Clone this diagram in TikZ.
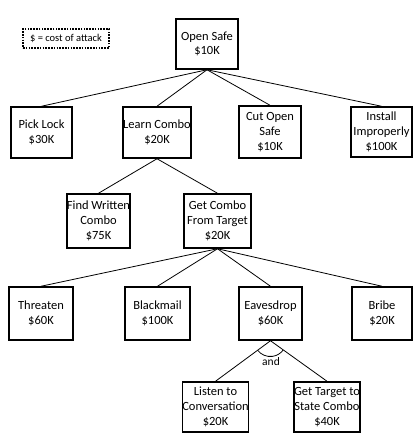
\documentclass[tikz,border=0pt]{standalone}
\usepackage{fontspec}
\setmainfont{Carlito}
\usetikzlibrary{calc}
\begin{document}
\begin{tikzpicture}[x=1pt,y=1pt,
  box/.style={draw=black,line width=1.5pt,align=center,inner sep=0pt,font=\fontsize{12.5}{14.8}\selectfont},
  link/.style={draw=black,line width=0.8pt}]
\useasboundingbox (0,0) rectangle (412,-433);
\node[draw=black,line width=1.6pt,dash pattern=on 1.6pt off 1.2pt,minimum width=86pt,minimum height=19pt,inner sep=0pt,font=\fontsize{10.5}{12}\selectfont] (legend) at (66,-38.5) {\$ = cost of attack};
\node[box,minimum width=62pt,minimum height=50pt] (open) at (207,-44) {Open Safe\\\$10K};
\node[box,minimum width=61pt,minimum height=51pt] (pick) at (41.5,-132.5) {Pick Lock\\\$30K};
\node[box,minimum width=66pt,minimum height=51pt] (learn) at (157,-132.5) {Learn Combo\\\$20K};
\node[box,minimum width=62pt,minimum height=52pt] (cut) at (270,-132) {Cut Open\\Safe\\\$10K};
\node[box,minimum width=61pt,minimum height=50pt] (install) at (381.5,-132) {Install\\Improperly\\\$100K};
\node[box,minimum width=63pt,minimum height=54pt] (find) at (98.5,-221) {Find Written\\Combo\\\$75K};
\node[box,minimum width=67pt,minimum height=54pt] (target) at (217.5,-221) {Get Combo\\From Target\\\$20K};
\node[box,minimum width=64pt,minimum height=53pt] (threaten) at (41,-313.5) {Threaten\\\$60K};
\node[box,minimum width=65pt,minimum height=53pt] (blackmail) at (157.5,-313.5) {Blackmail\\\$100K};
\node[box,minimum width=63pt,minimum height=53pt] (eaves) at (270.5,-313.5) {Eavesdrop\\\$60K};
\node[box,minimum width=60pt,minimum height=53pt] (bribe) at (382,-313.5) {Bribe\\\$20K};
\node[box,minimum width=63pt,minimum height=50pt] (listen) at (215.5,-407) {Listen to\\Conversation\\\$20K};
\node[box,minimum width=62pt,minimum height=50pt] (state) at (327,-407) {Get Target to\\State Combo\\\$40K};
\foreach \c in {pick,learn,cut,install} \draw[link] (open.south) -- (\c.north);
\foreach \c in {find,target} \draw[link] (learn.south) -- (\c.north);
\foreach \c in {threaten,blackmail,eaves,bribe} \draw[link] (target.south) -- (\c.north);
\foreach \c in {listen,state} \draw[link] (eaves.south) -- (\c.north);
\draw[link] ($(eaves.south)!16pt!(listen.north)$) arc[start angle=217.4,end angle=323.4,radius=16pt];
\node[font=\fontsize{11.5}{13}\selectfont,inner sep=0pt] (andlbl) at (271,-362) {and};
\end{tikzpicture}
\end{document}
